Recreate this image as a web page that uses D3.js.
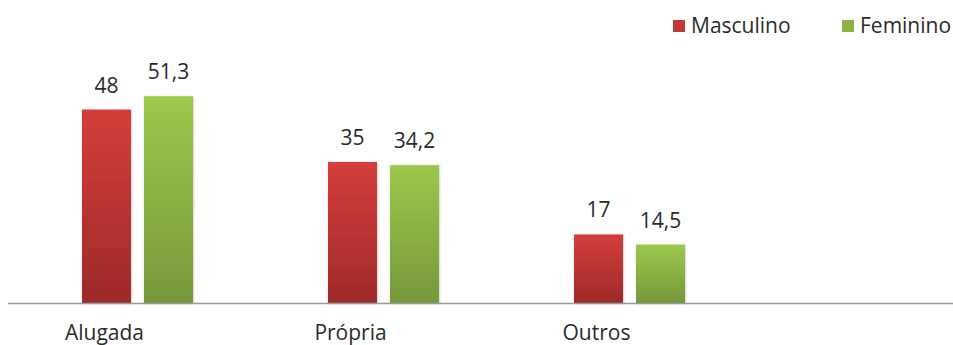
<!DOCTYPE html>
<html>
<head>
<meta charset="utf-8">
<script src="https://cdn.jsdelivr.net/npm/d3@7/dist/d3.min.js"></script>
<style>
  html, body { margin: 0; padding: 0; background: #fff; }
  svg { display: block; }
  text { font-family: "Open Sans", Lato, sans-serif; fill: #2b2b2b; }
</style>
</head>
<body>
<svg id="chart" width="953" height="345"></svg>
<script>
// Housing situation by sex (%)
const categories = ["Alugada", "Própria", "Outros"];
const seriesNames = ["Masculino", "Feminino"];
const masculino = [48, 35, 17];
const feminino = [51.3, 34.2, 14.5];
const valueLabels = [["48", "35", "17"], ["51,3", "34,2", "14,5"]];

const seriesValues = [masculino, feminino];
const colors = [
  { top: "#d43e3c", bottom: "#9e2a29", legend: "#c0393a" },
  { top: "#9cc84b", bottom: "#76983a", legend: "#8bb443" }
];

const W = 953, H = 345;
const baseline = 303;
const svg = d3.select("#chart");

const defs = svg.append("defs");
colors.forEach((c, i) => {
  const g = defs.append("linearGradient")
    .attr("id", "grad" + i).attr("x1", 0).attr("y1", 0).attr("x2", 0).attr("y2", 1);
  g.append("stop").attr("offset", "0%").attr("stop-color", c.top);
  g.append("stop").attr("offset", "100%").attr("stop-color", c.bottom);
});
const f = defs.append("filter").attr("id", "shadow")
  .attr("x", "-20%").attr("y", "-5%").attr("width", "140%").attr("height", "110%");
f.append("feDropShadow").attr("dx", 0.5).attr("dy", 0.5).attr("stdDeviation", 0.8)
  .attr("flood-color", "#000").attr("flood-opacity", 0.25);

// Category slots are 246px wide; groups sit in the first three
const x0 = d3.scaleBand().domain(categories).range([14.5, 14.5 + 246 * 3]).padding(0);
const x1 = d3.scaleBand().domain(seriesNames).range([0, 111]).paddingInner(0.21);
const y = d3.scaleLinear().domain([0, 60]).range([baseline, baseline - 60 * 4.03]);

const groups = svg.append("g").selectAll("g")
  .data(categories)
  .join("g")
  .attr("transform", d => `translate(${x0(d) + (x0.bandwidth() - 111) / 2},0)`);

groups.each(function (cat, ci) {
  const g = d3.select(this);
  seriesNames.forEach((s, si) => {
    const v = seriesValues[si][ci];
    g.append("rect")
      .attr("x", x1(s))
      .attr("y", y(v))
      .attr("width", x1.bandwidth())
      .attr("height", y(0) - y(v))
      .attr("fill", `url(#grad${si})`)
      .attr("filter", "url(#shadow)");
    g.append("text")
      .attr("x", x1(s) + x1.bandwidth() / 2)
      .attr("y", y(v) - 17)
      .attr("text-anchor", "middle")
      .attr("font-size", 21)
      .text(valueLabels[si][ci]);
  });
});

// Baseline axis
svg.append("line")
  .attr("x1", 8).attr("x2", W)
  .attr("y1", baseline + 0.5).attr("y2", baseline + 0.5)
  .attr("stroke", "#9a9a9a").attr("stroke-width", 1.5);

// Category labels
svg.append("g").selectAll("text")
  .data(categories)
  .join("text")
  .attr("x", d => x0(d) + x0.bandwidth() / 2 - 33)
  .attr("y", 340)
  .attr("text-anchor", "middle")
  .attr("font-size", 21)
  .text(d => d);

// Legend
const legendX = [673, 842];
const legend = svg.append("g").selectAll("g")
  .data(seriesNames)
  .join("g")
  .attr("transform", (d, i) => `translate(${legendX[i]},0)`);
legend.append("rect")
  .attr("x", 0).attr("y", 20).attr("width", 12).attr("height", 12)
  .attr("fill", (d, i) => colors[i].legend);
legend.append("text")
  .attr("x", 18).attr("y", 33)
  .attr("font-size", 21)
  .text(d => d);
</script>
</body>
</html>
